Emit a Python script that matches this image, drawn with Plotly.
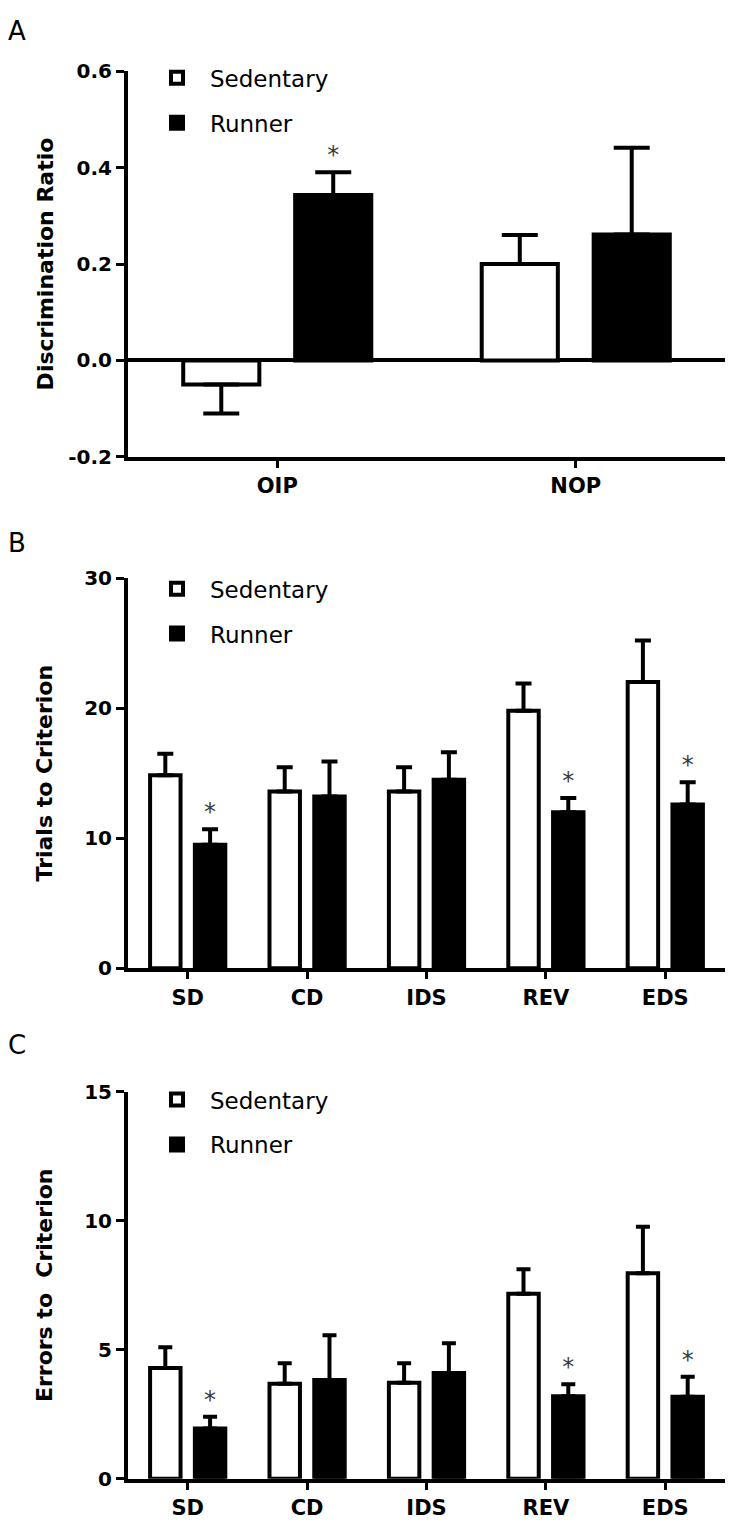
import plotly.graph_objects as go

FONT = "DejaVu Sans"

# ---------------- data ----------------
groups = ["Sedentary", "Runner"]

tasks_a = ["OIP", "NOP"]
sed_ratio = [-0.05, 0.20]
sed_ratio_sem = [0.06, 0.06]
run_ratio = [0.343, 0.261]
run_ratio_sem = [0.047, 0.18]
run_ratio_sig = [True, False]
ratio_ticks = [-0.2, 0.0, 0.2, 0.4, 0.6]
ratio_ticklabels = ["-0.2", "0.0", "0.2", "0.4", "0.6"]

stages = ["SD", "CD", "IDS", "REV", "EDS"]
sed_trials = [14.85, 13.6, 13.6, 19.8, 22.0]
sed_trials_sem = [1.65, 1.85, 1.85, 2.1, 3.2]
run_trials = [9.5, 13.2, 14.5, 12.0, 12.6]
run_trials_sem = [1.2, 2.7, 2.1, 1.1, 1.7]
run_trials_sig = [True, False, False, True, True]

sed_errors = [4.29, 3.68, 3.72, 7.17, 7.97]
sed_errors_sem = [0.81, 0.80, 0.76, 0.95, 1.80]
run_errors = [1.95, 3.83, 4.10, 3.20, 3.18]
run_errors_sem = [0.45, 1.73, 1.15, 0.46, 0.77]
run_errors_sig = [True, False, False, True, True]

panel_letters = ["A", "B", "C"]
y_titles = ["Discrimination Ratio", "Trials to Criterion", "Errors to  Criterion"]

# ---------------- figure ----------------
fig = go.Figure()


def err_up(means, sems):
    return [s if m >= 0 else 0 for m, s in zip(means, sems)]


def err_down(means, sems):
    return [s if m < 0 else 0 for m, s in zip(means, sems)]


def add_panel(idx, cats, sed, sed_sem, run, run_sem, sig, capw, legend_name):
    xa = "x" if idx == 1 else f"x{idx}"
    ya = "y" if idx == 1 else f"y{idx}"
    fig.add_trace(go.Bar(
        x=cats, y=sed, name=groups[0], xaxis=xa, yaxis=ya,
        offsetgroup="sed", legend=legend_name, legendgroup=f"{legend_name}_sed",
        marker=dict(color="white", line=dict(color="black", width=4)),
        error_y=dict(type="data", symmetric=False, array=err_up(sed, sed_sem),
                     arrayminus=err_down(sed, sed_sem), color="black",
                     thickness=4, width=capw),
    ))
    fig.add_trace(go.Bar(
        x=cats, y=run, name=groups[1], xaxis=xa, yaxis=ya,
        offsetgroup="run", legend=legend_name, legendgroup=f"{legend_name}_run",
        marker=dict(color="black", line=dict(color="black", width=4)),
        error_y=dict(type="data", symmetric=False, array=err_up(run, run_sem),
                     arrayminus=err_down(run, run_sem), color="black",
                     thickness=4, width=capw),
    ))
    # significance stars, placed above the top of each runner error bar
    tops = [m + s if flag else None for m, s, flag in zip(run, run_sem, sig)]
    fig.add_trace(go.Bar(
        x=cats, y=tops, xaxis=xa, yaxis=ya, offsetgroup="run",
        marker=dict(color="rgba(0,0,0,0)", line=dict(width=0)),
        text=["*" if flag else "" for flag in sig], textposition="outside",
        textfont=dict(family=FONT, size=24, color="#3a3a3a"),
        constraintext="none", cliponaxis=False,
        showlegend=False, hoverinfo="skip",
    ))


add_panel(1, tasks_a, sed_ratio, sed_ratio_sem, run_ratio, run_ratio_sem, run_ratio_sig, 18, "legend")
add_panel(2, stages, sed_trials, sed_trials_sem, run_trials, run_trials_sem, run_trials_sig, 8, "legend2")
add_panel(3, stages, sed_errors, sed_errors_sem, run_errors, run_errors_sem, run_errors_sig, 7, "legend3")

W, H = 733, 1538
xdom = [128 / W, 725 / W]
ydoms = [
    [1 - 452 / H, 1 - 60 / H],
    [1 - 971.5 / H, 1 - 575 / H],
    [1 - 1490 / H, 1 - 1097 / H],
]

tick_font = dict(family=FONT, size=20, color="black", weight="bold")
cat_font = dict(family=FONT, size=21, color="black", weight="bold")
title_font = dict(family=FONT, size=22, color="black", weight="bold")


def xaxis_cfg(anchor, ncat):
    return dict(domain=xdom, anchor=anchor, type="category", range=[-0.5, ncat - 0.5],
                showline=True, linewidth=4, linecolor="black", ticks="outside",
                ticklen=7, tickwidth=3, tickcolor="black", showgrid=False,
                zeroline=False, tickfont=cat_font, fixedrange=True)


def yaxis_cfg(anchor, dom, rng, title, standoff, zl=False):
    return dict(domain=dom, anchor=anchor, range=rng, showline=True, linewidth=4,
                linecolor="black", ticks="outside", ticklen=8, tickwidth=3,
                tickcolor="black", showgrid=False, zeroline=zl, zerolinewidth=4,
                zerolinecolor="black", tickfont=tick_font, fixedrange=True,
                title=dict(text=title, font=title_font, standoff=standoff))


fig.update_layout(
    width=W, height=H, margin=dict(l=0, r=0, t=0, b=0),
    paper_bgcolor="white", plot_bgcolor="white",
    barmode="group", bargap=0.25, bargroupgap=0.32,
    xaxis=xaxis_cfg("y", len(tasks_a)),
    xaxis2=xaxis_cfg("y2", len(stages)),
    xaxis3=xaxis_cfg("y3", len(stages)),
    yaxis={**yaxis_cfg("x", ydoms[0], [-0.2, 0.6], y_titles[0], 10, zl=True),
           "tickvals": ratio_ticks, "ticktext": ratio_ticklabels},
    yaxis2={**yaxis_cfg("x2", ydoms[1], [0, 30], y_titles[1], 26), "dtick": 10},
    yaxis3={**yaxis_cfg("x3", ydoms[2], [0, 15], y_titles[2], 26), "dtick": 5},
    showlegend=True,
)

leg_common = dict(xanchor="left", yanchor="top", bgcolor="rgba(0,0,0,0)",
                  font=dict(family=FONT, size=23, color="black"),
                  tracegroupgap=12, itemwidth=56, itemclick=False, itemdoubleclick=False)
fig.update_layout(
    legend=dict(x=144 / W, y=1 - 45 / H, **leg_common),
    legend2=dict(x=144 / W, y=1 - 564 / H, **leg_common),
    legend3=dict(x=144 / W, y=1 - 1083 / H, **leg_common),
)

letter_y = [2, 522, 1032]
for letter, yy in zip(panel_letters, letter_y):
    fig.add_annotation(text=letter, xref="paper", yref="paper", x=6 / W, y=1 - yy / H,
                       xanchor="left", yanchor="top", showarrow=False,
                       font=dict(family=FONT, size=26, color="black"))

fig.write_html("out.html", config={"displayModeBar": False},
               post_script="document.body.style.margin='0';")
